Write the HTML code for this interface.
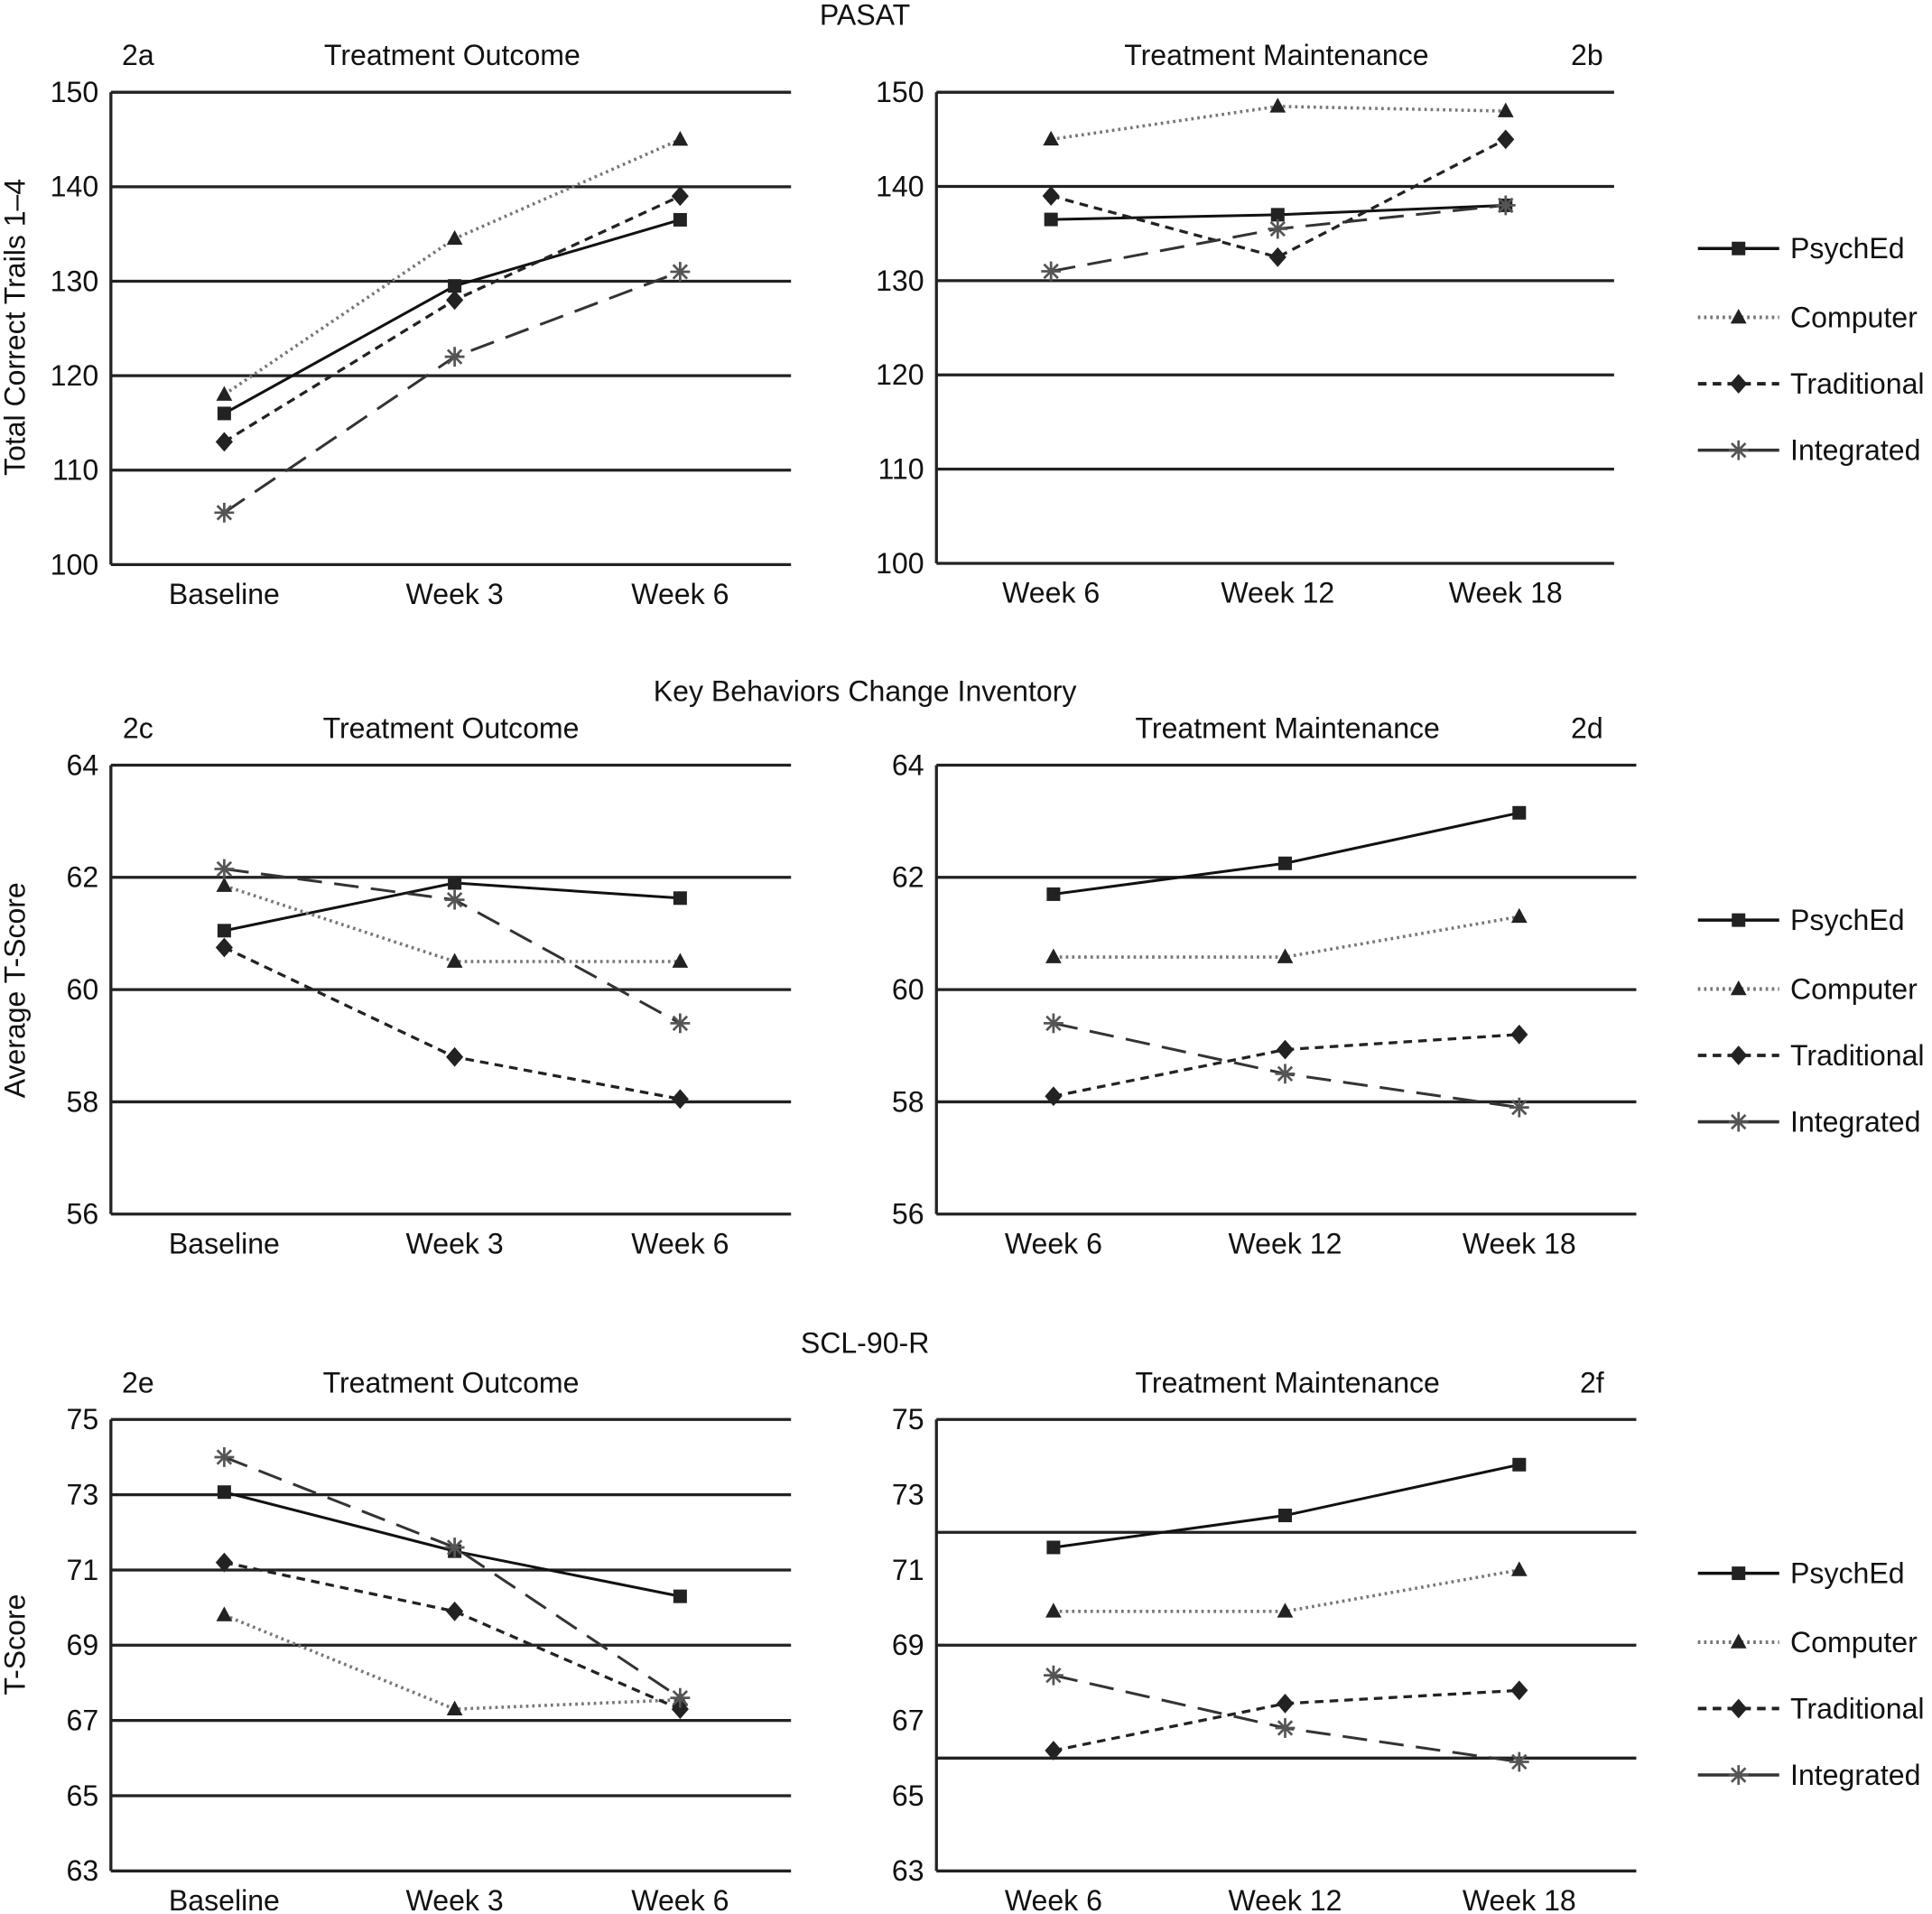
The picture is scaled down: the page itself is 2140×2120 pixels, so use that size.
<!DOCTYPE html>
<html><head><meta charset="utf-8"><style>
html,body{margin:0;padding:0;background:#fff}
svg{display:block}
text{font-family:"Liberation Sans",sans-serif;fill:#111}
</style></head><body>
<svg id="fig" width="2140" height="2120" viewBox="0 0 1568 1556" preserveAspectRatio="none" xmlns="http://www.w3.org/2000/svg"></svg>
<script>
const seriesNames = ["PsychEd","Computer","Traditional","Integrated"];
const outcomeCats = ["Baseline","Week 3","Week 6"];
const maintCats = ["Week 6","Week 12","Week 18"];
// 2a
const a_psy=[116,129.5,136.5], a_com=[118,134.5,145], a_tra=[113,128,139], a_int=[105.5,122,131];
// 2b
const b_psy=[136.5,137,138], b_com=[145,148.5,148], b_tra=[139,132.5,145], b_int=[131,135.5,138];
// 2c
const c_psy=[61.05,61.9,61.63], c_com=[61.85,60.5,60.5], c_tra=[60.75,58.8,58.05], c_int=[62.15,61.6,59.4];
// 2d
const d_psy=[61.7,62.25,63.15], d_com=[60.58,60.58,61.3], d_tra=[58.1,58.93,59.2], d_int=[59.4,58.5,57.9];
// 2e
const e_psy=[73.07,71.5,70.3], e_com=[69.8,67.3,67.55], e_tra=[71.2,69.9,67.3], e_int=[74,71.6,67.6];
// 2f
const f_psy=[71.6,72.45,73.8], f_com=[69.9,69.9,71], f_tra=[66.2,67.45,67.8], f_int=[68.2,66.8,65.9];
const ticks150=[100,110,120,130,140,150];
const ticks64=[56,58,60,62,64];
const ticks75=[63,65,67,69,71,73,75];

const svg=document.getElementById('fig');
const NS='http://www.w3.org/2000/svg';
const FS=23.5;
function mk(tag,attrs,parent){const e=document.createElementNS(NS,tag);for(const k in attrs)e.setAttribute(k,attrs[k]);(parent||svg).appendChild(e);return e;}
function txt(s,x,y,size,anchor,parent){const t=mk('text',{x:x,y:y,'font-size':size,'text-anchor':anchor||'middle'},parent);t.textContent=s;return t;}
const styles=[
 {stroke:'#111',dash:'',w:2.2},
 {stroke:'#777',dash:'2 3',w:2.6},
 {stroke:'#222',dash:'7 5',w:2.4},
 {stroke:'#333',dash:'20 10',w:2.2}];
function marker(k,x,y,g){
 if(k===0){mk('rect',{x:x-5.5,y:y-5.5,width:11,height:11,fill:'#222'},g);}
 else if(k===1){mk('polygon',{points:`${x},${y-7} ${x+6.5},${y+5} ${x-6.5},${y+5}`,fill:'#222'},g);}
 else if(k===2){mk('polygon',{points:`${x},${y-8} ${x+7},${y} ${x},${y+8} ${x-7},${y}`,fill:'#222'},g);}
 else {for(let i=0;i<4;i++){const a=i*Math.PI/4;mk('line',{x1:x-8*Math.cos(a),y1:y-8*Math.sin(a),x2:x+8*Math.cos(a),y2:y+8*Math.sin(a),stroke:'#555','stroke-width':2},g);}}
}
function panel(o){
 const g=mk('g',{});
 
 
 const yS=v=>o.yTop+(o.max-v)/(o.max-o.min)*(o.yBot-o.yTop);
 o.grid.forEach(v=>{const l=mk('line',{x1:o.x0,x2:o.x1,y1:yS(v),y2:yS(v),stroke:'#222','stroke-width':2.4},g);});
 mk('line',{x1:o.x0,x2:o.x0,y1:o.yTop,y2:o.yBot,stroke:'#222','stroke-width':2.4},g);
 o.ticks.forEach(v=>{const t=txt(String(v),o.x0-10,yS(v)+8,FS,'end',g);});
 o.cats.forEach((c,i)=>{const t=txt(c,o.cx[i],o.yBot+32,FS,'middle',g);});
 o.series.forEach((s,k)=>{
  const st=styles[k];
  const pts=s.map((v,i)=>o.cx[i]+','+yS(v)).join(' ');
  const pl=mk('polyline',{points:pts,fill:'none',stroke:st.stroke,'stroke-width':st.w,'stroke-dasharray':st.dash},g);
  
  
  s.forEach((v,i)=>marker(k,o.cx[i],yS(v),g));
 });
 const t1=txt(o.title,o.titleX,o.yTop-22,FS,'middle',g);
 const t2=txt(o.label,o.labelX,o.yTop-22,FS,'middle',g);
}
function legend(y0){
 const g=mk('g',{});
 
 
 const gap=[0,56,110,164];
 seriesNames.forEach((n,k)=>{
  const y=y0+gap[k];const st=styles[k];
  const l=mk('line',{x1:1378,x2:1444,y1:y,y2:y,stroke:st.stroke,'stroke-width':st.w+0.4,'stroke-dasharray':k===3?'':st.dash},g);
  
  marker(k,1411,y,g);
  const t=txt(n,1453,y+8,FS,'start',g);
 });
}
const ocx=[182,369,552], mcx=[853,1037,1222];
panel({name:'panel-2a',x0:90,x1:642,yTop:75,yBot:459,min:100,max:150,grid:ticks150,ticks:ticks150,cats:outcomeCats,cx:ocx,series:[a_psy,a_com,a_tra,a_int],title:'Treatment Outcome',titleX:367,label:'2a',labelX:112});
panel({name:'panel-2b',x0:760,x1:1310,yTop:75,yBot:458,min:100,max:150,grid:ticks150,ticks:ticks150,cats:maintCats,cx:mcx,series:[b_psy,b_com,b_tra,b_int],title:'Treatment Maintenance',titleX:1036,label:'2b',labelX:1288});
panel({name:'panel-2c',x0:90,x1:642,yTop:622,yBot:987,min:56,max:64,grid:ticks64,ticks:ticks64,cats:outcomeCats,cx:ocx,series:[c_psy,c_com,c_tra,c_int],title:'Treatment Outcome',titleX:366,label:'2c',labelX:112});
panel({name:'panel-2d',x0:760,x1:1328,yTop:622,yBot:987,min:56,max:64,grid:ticks64,ticks:ticks64,cats:maintCats,cx:[855,1043,1233],series:[d_psy,d_com,d_tra,d_int],title:'Treatment Maintenance',titleX:1045,label:'2d',labelX:1288});
panel({name:'panel-2e',x0:90,x1:642,yTop:1154,yBot:1521,min:63,max:75,grid:ticks75,ticks:ticks75,cats:outcomeCats,cx:ocx,series:[e_psy,e_com,e_tra,e_int],title:'Treatment Outcome',titleX:366,label:'2e',labelX:112});
panel({name:'panel-2f',x0:760,x1:1328,yTop:1154,yBot:1521,min:63,max:75,grid:[75,72,69,66,63],ticks:ticks75,cats:maintCats,cx:[855,1043,1233],series:[f_psy,f_com,f_tra,f_int],title:'Treatment Maintenance',titleX:1045,label:'2f',labelX:1292});
legend(202);legend(748);legend(1279);
[['PASAT',702,20],['Key Behaviors Change Inventory',702,570],['SCL-90-R',702,1100]].forEach(([s,x,y])=>{const t=txt(s,x,y,FS,'middle');});
[['Total Correct Trails 1–4',266],['Average T-Score',805],['T-Score',1337]].forEach(([s,y])=>{const t=txt(s,0,0,FS,'middle');t.setAttribute('transform',`translate(20,${y}) rotate(-90)`);});
</script>
</body></html>
